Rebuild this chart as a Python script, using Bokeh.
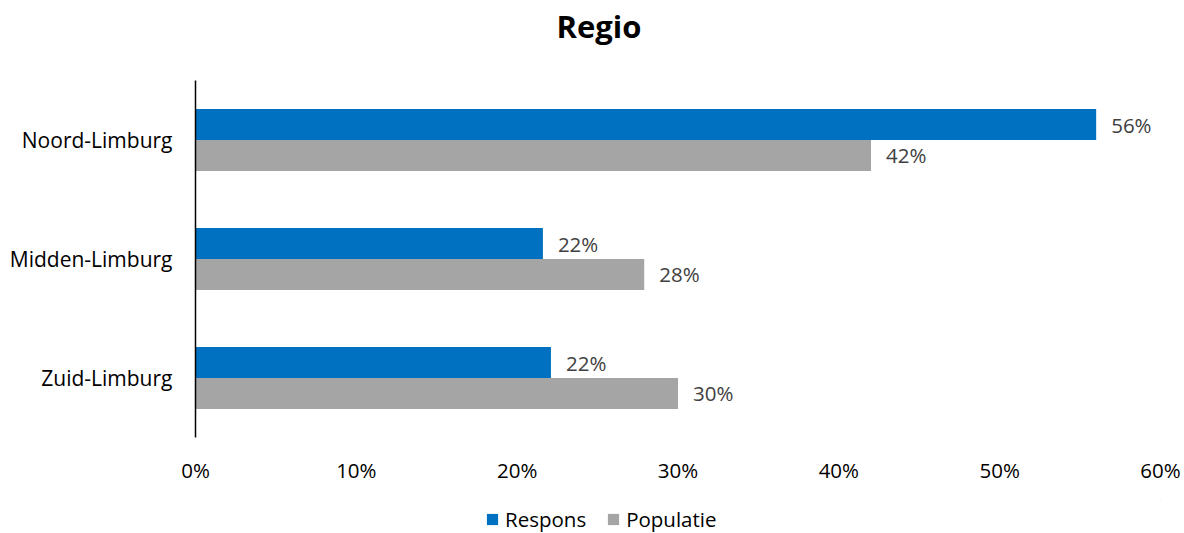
from bokeh.plotting import figure
from bokeh.layouts import column
from bokeh.models import ColumnDataSource, FactorRange, Range1d, Legend, LegendItem, NumeralTickFormatter, FixedTicker
from bokeh.transform import dodge
from bokeh.embed import file_html
from bokeh.resources import INLINE
from bokeh.core.properties import value

categories = ["Noord-Limburg", "Midden-Limburg", "Zuid-Limburg"]
respons = [0.56, 0.216, 0.221]
populatie = [0.42, 0.279, 0.30]
respons_labels = ["56%", "22%", "22%"]
populatie_labels = ["42%", "28%", "30%"]
x_ticks = [0, 0.1, 0.2, 0.3, 0.4, 0.5, 0.6]
series_names = ["Respons", "Populatie"]
series_colors = ["#0070C0", "#A5A5A5"]
title_text = "Regio"

FONT = "Open Sans"

# title strip
tt = figure(width=1184, height=80, output_backend="svg", toolbar_location=None,
            x_axis_location=None, y_axis_location=None,
            x_range=Range1d(0, 1), y_range=Range1d(0, 1), min_border=0)
tt.xgrid.grid_line_color = None
tt.ygrid.grid_line_color = None
tt.outline_line_color = None
tt.title.text = title_text
tt.title.align = "left"
tt.title.vertical_align = "bottom"
tt.title.offset = 361
tt.title.standoff = 4
tt.title.text_font = FONT
tt.title.text_font_size = "31px"
tt.title.text_font_style = "bold"
tt.title.text_color = "black"

src = ColumnDataSource(dict(cat=categories, resp=respons, pop=populatie,
                            rl=respons_labels, pl=populatie_labels))

p = figure(width=1184, height=420, output_backend="svg", toolbar_location=None,
           y_range=FactorRange(*categories[::-1]), x_range=Range1d(0, 0.6),
           min_border_left=195, min_border_right=24, min_border_top=0, min_border_bottom=63)

p.hbar(y=dodge("cat", 0.13, range=p.y_range), right="resp", height=0.26, left=0,
       source=src, color=series_colors[0], line_color=None)
p.hbar(y=dodge("cat", -0.13, range=p.y_range), right="pop", height=0.26, left=0,
       source=src, color=series_colors[1], line_color=None)

p.text(x="resp", y=dodge("cat", 0.13, range=p.y_range), text="rl", source=src,
       x_offset=15, text_align="left", text_baseline="middle",
       text_font=value(FONT), text_font_size="20.5px", text_color="#404040")
p.text(x="pop", y=dodge("cat", -0.13, range=p.y_range), text="pl", source=src,
       x_offset=15, text_align="left", text_baseline="middle",
       text_font=value(FONT), text_font_size="20.5px", text_color="#404040")

p.xaxis.ticker = FixedTicker(ticks=x_ticks)
p.xaxis.formatter = NumeralTickFormatter(format="0%")
p.xaxis.axis_line_color = None
p.xaxis.major_tick_line_color = None
p.xaxis.minor_tick_line_color = None
p.xaxis.major_label_standoff = 12
p.xaxis.major_label_text_font = FONT
p.xaxis.major_label_text_font_size = "20.5px"
p.xaxis.major_label_text_color = "black"

p.yaxis.axis_line_color = "black"
p.yaxis.axis_line_width = 1.5
p.yaxis.major_tick_line_color = None
p.yaxis.minor_tick_line_color = None
p.yaxis.major_label_standoff = 17
p.yaxis.major_label_text_font = FONT
p.yaxis.major_label_text_font_size = "21px"
p.yaxis.major_label_text_color = "black"

p.xgrid.grid_line_color = None
p.ygrid.grid_line_color = None
p.outline_line_color = None

# legend strip (its bars lie outside the visible range; only the legend shows)
lg = figure(width=1184, height=33, output_backend="svg", toolbar_location=None,
            x_axis_location=None, y_axis_location=None,
            x_range=Range1d(0, 1), y_range=Range1d(0, 1), min_border=0)
lg.xgrid.grid_line_color = None
lg.ygrid.grid_line_color = None
lg.outline_line_color = None
items = []
for name, col in zip(series_names, series_colors):
    r = lg.hbar(y=[5], right=[6], left=5, height=0.5, color=col, line_color=None)
    items.append(LegendItem(label=name, renderers=[r]))
legend = Legend(items=items, location=(290, 0), orientation="horizontal",
                padding=0, margin=0, spacing=20, label_standoff=6,
                glyph_width=14, glyph_height=14, label_height=20,
                label_text_font=FONT, label_text_font_size="20.5px",
                label_text_color="black", border_line_color=None,
                background_fill_alpha=0)
lg.add_layout(legend, "center")

layout = column(tt, p, lg, spacing=0)
open("out.html", "w").write(file_html(layout, INLINE))
